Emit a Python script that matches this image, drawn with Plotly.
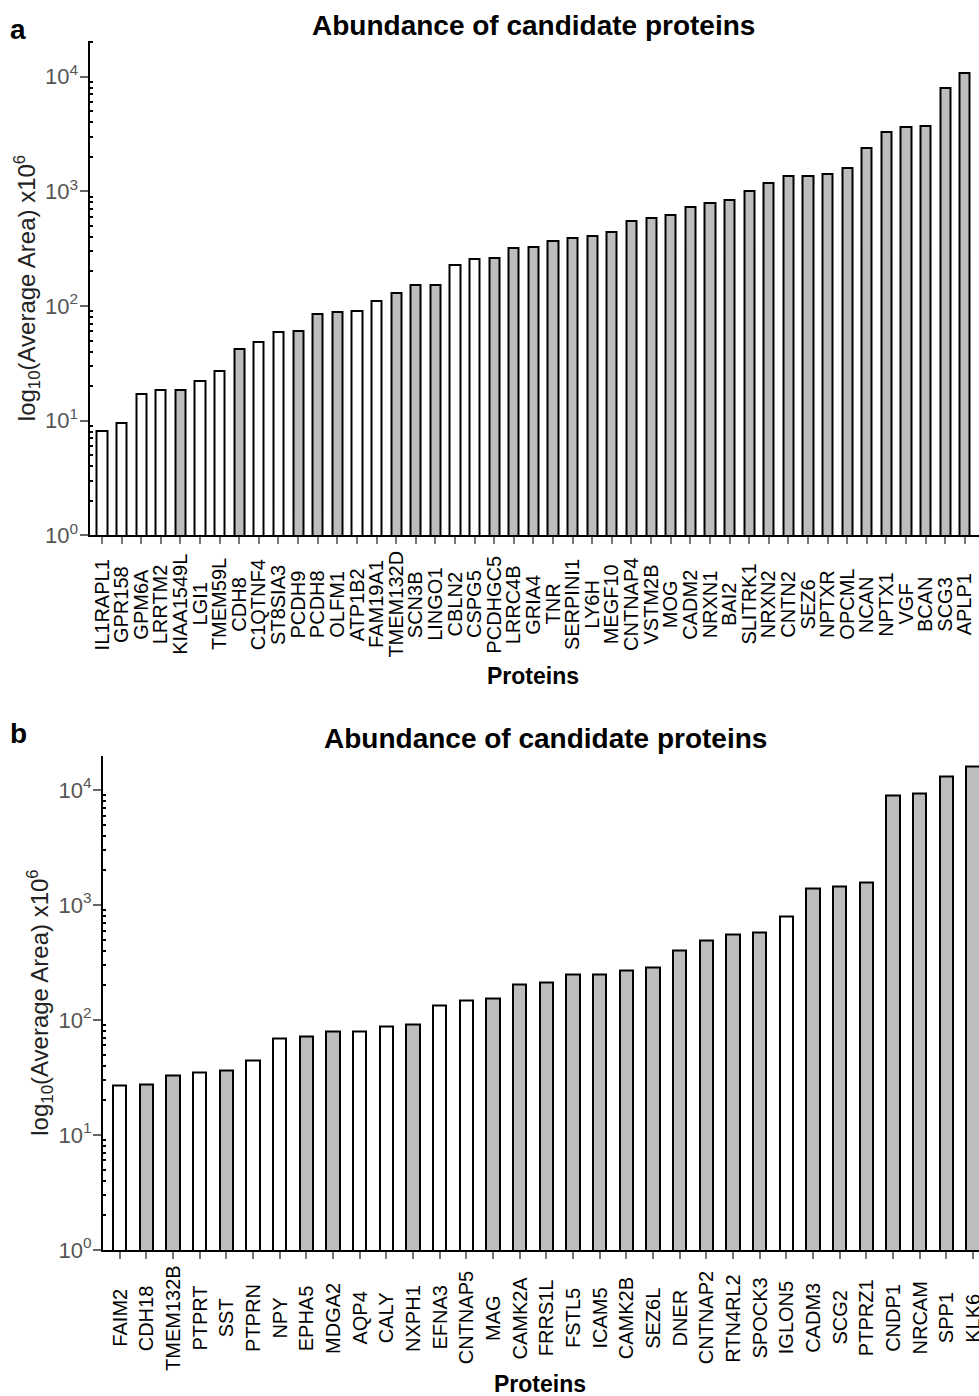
import plotly.graph_objects as go

# ---------------- Data ----------------
proteins_a = ["IL1RAPL1", "GPR158", "GPM6A", "LRRTM2", "KIAA1549L", "LGI1", "TMEM59L", "CDH8",
              "C1QTNF4", "ST8SIA3", "PCDH9", "PCDH8", "OLFM1", "ATP1B2", "FAM19A1", "TMEM132D",
              "SCN3B", "LINGO1", "CBLN2", "CSPG5", "PCDHGC5", "LRRC4B", "GRIA4", "TNR",
              "SERPINI1", "LY6H", "MEGF10", "CNTNAP4", "VSTM2B", "MOG", "CADM2", "NRXN1",
              "BAI2", "SLITRK1", "NRXN2", "CNTN2", "SEZ6", "NPTXR", "OPCML", "NCAN",
              "NPTX1", "VGF", "BCAN", "SCG3", "APLP1"]
area_a = [8.1, 9.5, 17.2, 18.4, 18.4, 22, 27, 42, 48.5, 59, 60, 85, 89, 90, 111, 131,
          151, 151, 229, 259, 264, 320, 329, 371, 389, 408, 439, 547, 585, 617, 735, 786,
          840, 1000, 1190, 1370, 1370, 1407, 1600, 2400, 3290, 3610, 3710, 8020, 10770]
# 1 = grey filled bar, 0 = white bar
group_a = [0, 0, 0, 0, 1, 0, 0, 1, 0, 0, 1, 1, 1, 0, 0, 1, 1, 1, 0, 0, 1, 1, 1, 1,
           1, 1, 1, 1, 1, 1, 1, 1, 1, 1, 1, 1, 1, 1, 1, 1, 1, 1, 1, 1, 1]

proteins_b = ["FAIM2", "CDH18", "TMEM132B", "PTPRT", "SST", "PTPRN", "NPY", "EPHA5", "MDGA2",
              "AQP4", "CALY", "NXPH1", "EFNA3", "CNTNAP5", "MAG", "CAMK2A", "FRRS1L", "FSTL5",
              "ICAM5", "CAMK2B", "SEZ6L", "DNER", "CNTNAP2", "RTN4RL2", "SPOCK3", "IGLON5",
              "CADM3", "SCG2", "PTPRZ1", "CNDP1", "NRCAM", "SPP1", "KLK6"]
area_b = [26.7, 27.6, 32.6, 34.8, 36, 44.6, 69, 72, 79, 79, 87.5, 92, 134, 149, 153, 204,
          210, 249, 249, 267, 285, 403, 486, 556, 575, 796, 1386, 1452, 1553, 8870, 9350,
          13150, 15860]
group_b = [0, 1, 1, 0, 1, 0, 0, 1, 1, 0, 0, 1, 0, 0, 1, 1, 1, 1, 1, 1, 1, 1, 1, 1, 1, 0,
           1, 1, 1, 1, 1, 1, 1]

ytick_vals = [1, 10, 100, 1000, 10000]
ytick_text = ["10<sup>0</sup>", "10<sup>1</sup>", "10<sup>2</sup>", "10<sup>3</sup>", "10<sup>4</sup>"]
minor_vals = [m * 10 ** k for k in range(0, 5) for m in range(2, 10)]

title_text = "<b>Abundance of candidate proteins</b>"
ytitle_text = "log<sub>10</sub>(Average Area) x10<sup>6</sup>"
xtitle_text = "<b>Proteins</b>"

# ---------------- Figure ----------------
W, H = 979, 1410
REF_H = 1396
FONT = "Liberation Sans, Arial, sans-serif"
GREY = "#bdbdbd"

fig = go.Figure()

def colors(g):
    return [GREY if v else "white" for v in g]

fig.add_trace(go.Bar(x=proteins_a, y=area_a, marker=dict(color=colors(group_a),
                     line=dict(color="black", width=2)), width=0.52,
                     xaxis="x", yaxis="y", showlegend=False))
fig.add_trace(go.Bar(x=proteins_b, y=area_b, marker=dict(color=colors(group_b),
                     line=dict(color="black", width=2)), width=0.5,
                     xaxis="x2", yaxis="y2", showlegend=False))

def py(px):
    return 1 - px / REF_H

def px_x(px):
    return px / W

xcommon = dict(showline=True, linecolor="black", linewidth=2, ticks="outside", ticklen=7,
               tickwidth=1.5, tickcolor="#777777", showticklabels=False, showgrid=False,
               zeroline=False, fixedrange=True)
ycommon = dict(type="log", showline=True, linecolor="black", linewidth=2, ticks="outside",
               ticklen=8, tickwidth=1.5, tickcolor="#666666", tickmode="array",
               tickvals=ytick_vals, ticktext=ytick_text, showgrid=False, zeroline=False,
               tickfont=dict(family=FONT, size=22, color="#555555"), ticklabelstandoff=-3,
               minor=dict(tickmode="array", tickvals=minor_vals, ticks="inside", ticklen=3,
                          tickwidth=2, tickcolor="black", showgrid=False),
               fixedrange=True)

fig.update_layout(
    width=W, height=H, margin=dict(l=0, r=0, t=0, b=0),
    paper_bgcolor="white", plot_bgcolor="white", bargap=0,
    font=dict(family=FONT, color="black"),
    xaxis=dict(**xcommon, domain=[px_x(89.5), 1], range=[-0.637, 44.72], anchor="y"),
    yaxis=dict(**ycommon, domain=[py(535), py(41)], range=[0, 4.31], anchor="x"),
    xaxis2=dict(**xcommon, domain=[px_x(103), 1], range=[-0.626, 32.23], anchor="y2"),
    yaxis2=dict(**ycommon, domain=[py(1249), py(755)], range=[0, 4.30], anchor="x2"),
)

ann = []
def add(text, x, y, size, angle=0, color="black"):
    ann.append(dict(text=text, x=px_x(x), y=py(y), xref="paper", yref="paper",
                    showarrow=False, textangle=angle, xanchor="center", yanchor="middle",
                    font=dict(family=FONT, size=size, color=color)))

# category labels, vertically centred under each bar (positioned on the category axis)
for name in proteins_a:
    ann.append(dict(text=name, x=name, xref="x", y=py(604), yref="paper", showarrow=False,
                    textangle=-90, xanchor="center", yanchor="middle",
                    font=dict(family=FONT, size=20, color="black")))
for name in proteins_b:
    ann.append(dict(text=name, x=name, xref="x2", y=py(1317), yref="paper", showarrow=False,
                    textangle=-90, xanchor="center", yanchor="middle",
                    font=dict(family=FONT, size=20, color="black")))

add("<b>a</b>", 18, 29, 28)
add(title_text, 533, 25, 28)
add(ytitle_text, 27, 288, 24, angle=-90, color="#222222")
add(xtitle_text, 533, 676, 23)
add("<b>b</b>", 18, 733, 28)
add(title_text, 545, 738, 28)
add(ytitle_text, 40, 1002, 24, angle=-90, color="#222222")
add(xtitle_text, 540, 1383, 23)
fig.update_layout(annotations=ann)

post = (
    "document.documentElement.style.margin='0';"
    "document.body.style.margin='0';"
    "document.body.style.overflow='hidden';"
)
fig.write_html("out.html", config={"displayModeBar": False}, post_script=post)
